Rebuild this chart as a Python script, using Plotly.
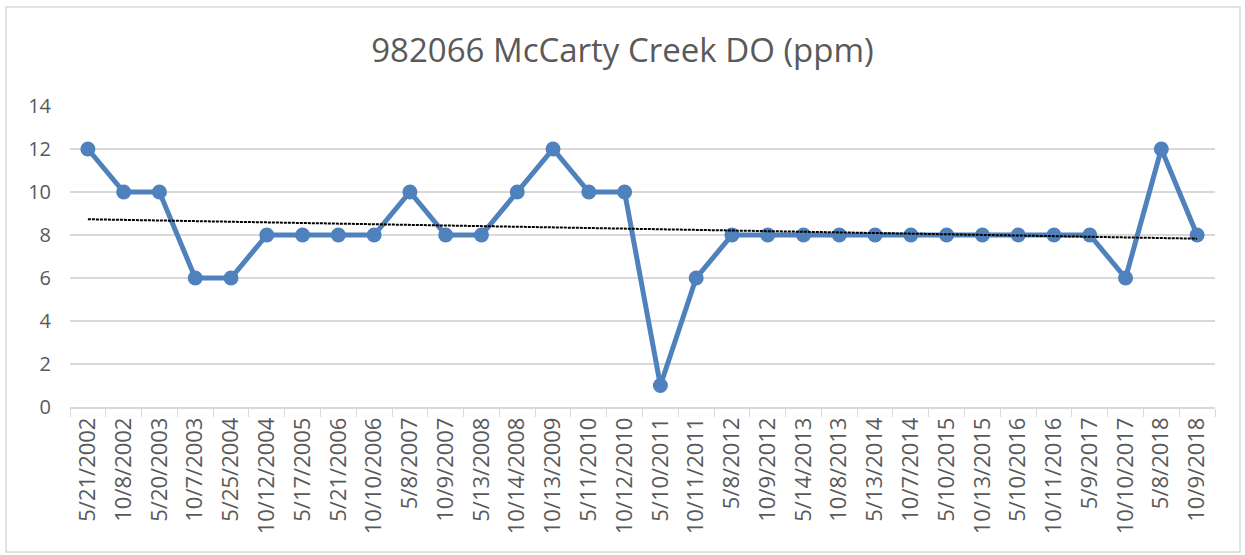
import numpy as np
import plotly.graph_objects as go

dates = ["5/21/2002", "10/8/2002", "5/20/2003", "10/7/2003", "5/25/2004", "10/12/2004",
         "5/17/2005", "5/21/2006", "10/10/2006", "5/8/2007", "10/9/2007", "5/13/2008",
         "10/14/2008", "10/13/2009", "5/11/2010", "10/12/2010", "5/10/2011", "10/11/2011",
         "5/8/2012", "10/9/2012", "5/14/2013", "10/8/2013", "5/13/2014", "10/7/2014",
         "5/10/2015", "10/13/2015", "5/10/2016", "10/11/2016", "5/9/2017", "10/10/2017",
         "5/8/2018", "10/9/2018"]
do_ppm = [12, 10, 10, 6, 6, 8, 8, 8, 8, 10, 8, 8, 10, 12, 10, 10, 1, 6,
          8, 8, 8, 8, 8, 8, 8, 8, 8, 8, 8, 6, 12, 8]
y_ticks = [0, 2, 4, 6, 8, 10, 12, 14]

idx = np.arange(len(do_ppm))
slope, intercept = np.polyfit(idx, do_ppm, 1)
trend = slope * idx + intercept

fig = go.Figure()
fig.add_trace(go.Scatter(
    x=dates, y=do_ppm, mode="lines+markers",
    line=dict(color="#4F81BD", width=5),
    marker=dict(color="#4F81BD", size=15),
    showlegend=False, hoverinfo="x+y"))
fig.add_trace(go.Scatter(
    x=dates, y=trend, mode="lines",
    line=dict(color="black", width=2, dash="3px,1px"),
    showlegend=False, hoverinfo="skip"))

W, H = 1245, 555
ml, mr, mt, mb = 70, 30, 106, 148
pw, ph = W - ml - mr, H - mt - mb

fig.update_layout(
    width=W, height=H,
    margin=dict(l=ml, r=mr, t=mt, b=mb),
    paper_bgcolor="white", plot_bgcolor="white",
    font=dict(family="Open Sans", color="#595959"),
    title=dict(text="982066 McCarty Creek DO (ppm)", x=0.5, xanchor="center",
               y=1 - 50 / H, yanchor="middle",
               font=dict(size=33, color="#595959", family="Open Sans")),
    xaxis=dict(type="category", tickangle=-90, tickson="boundaries",
               ticks="outside", ticklen=8, tickcolor="#D9D9D9", tickwidth=1,
               showline=True, linecolor="#D9D9D9", linewidth=1.5,
               showgrid=False, tickfont=dict(size=22, color="#595959"),
               range=[-0.5, len(dates) - 0.5], fixedrange=True),
    yaxis=dict(range=[0, 14], tickvals=y_ticks, showgrid=True,
               gridcolor="#D9D9D9", gridwidth=1.5, zeroline=False,
               showline=False, ticks="", ticklabelstandoff=18,
               tickfont=dict(size=20, color="#595959")),
    shapes=[dict(type="rect", xref="paper", yref="paper",
                 x0=(6 - ml) / pw, x1=(1240 - ml) / pw,
                 y0=-(552 - (H - mb)) / ph, y1=(H - mb - 7) / ph,
                 line=dict(color="#D9D9D9", width=1.5), layer="below")],
)

fig.write_html("out.html", config={"displayModeBar": False},
               post_script="document.body.style.margin='0';document.body.style.overflow='hidden';")
